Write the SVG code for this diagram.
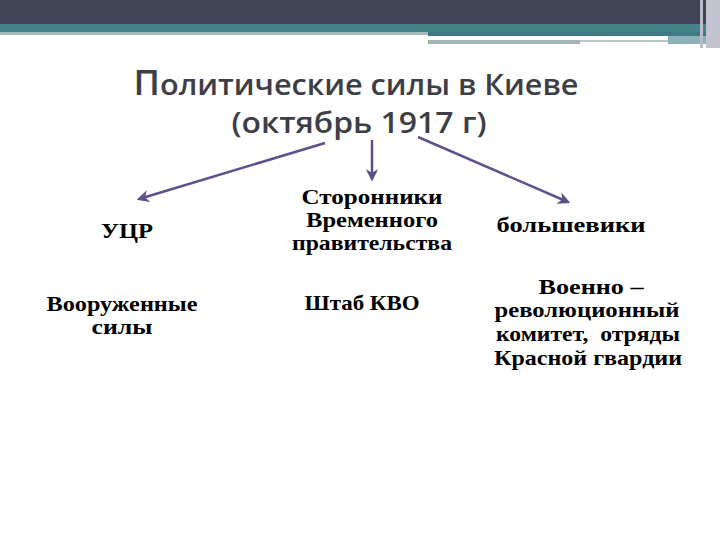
<svg xmlns="http://www.w3.org/2000/svg" width="720" height="540" viewBox="0 0 720 540">
<style>
.title{font-family:"Open Sans","DejaVu Sans",sans-serif;font-weight:600;fill:#3e3e46;text-anchor:middle}
.lbl{font-family:"Liberation Serif","Times New Roman",serif;font-weight:bold;font-size:21px;fill:#000;text-anchor:middle}
.arr{stroke:#58528e;stroke-width:2.5;fill:none;marker-end:url(#ah)}
</style>
<defs>
<marker id="ah" viewBox="0 0 10 10" refX="8" refY="5" markerWidth="5" markerHeight="5" orient="auto" markerUnits="strokeWidth">
<path d="M0,0 L10,5 L0,10 L3,5 Z" fill="#58528e"/>
</marker>
</defs>
<rect width="720" height="540" fill="#fff"/>
<g id="header">
<rect x="0" y="0" width="720" height="24" fill="#3f4456"/>
<rect x="0" y="20" width="720" height="4" fill="#45435a"/>
<rect x="0" y="24" width="710" height="8" fill="#45838a"/>
<rect x="0" y="32" width="428" height="3" fill="#a7b8c0"/>
<rect x="428" y="32" width="280" height="4" fill="#3f7a84"/>
<rect x="428" y="36" width="240" height="2" fill="#ffffff"/>
<rect x="428" y="40" width="152" height="4" fill="#a4b4b6"/>
<rect x="580" y="40" width="88" height="2" fill="#b8c6c8"/>
<rect x="668" y="36" width="40" height="8" fill="#8fb0b8"/>
<rect x="700" y="0" width="3" height="48" fill="#b8bcc8"/>
<rect x="706" y="0" width="14" height="48" fill="#c4c4d0"/>
</g>
<g id="title">
<text class="title" x="356" y="95" font-size="29" textLength="445" lengthAdjust="spacingAndGlyphs"><tspan font-size="34">П</tspan>олитические силы в Киеве</text>
<text class="title" x="359" y="133" font-size="29" textLength="255" lengthAdjust="spacingAndGlyphs">(октябрь 1917 г)</text>
</g>
<g id="connectors">
<line class="arr" x1="325" y1="143" x2="139" y2="199"/>
<line class="arr" x1="372" y1="140" x2="372" y2="179"/>
<line class="arr" x1="418" y1="137" x2="568" y2="202"/>
</g>
<g id="ucr"><text class="lbl" x="127" y="238" textLength="52" lengthAdjust="spacingAndGlyphs">УЦР</text></g>
<g id="supporters"><text class="lbl" x="372" y="204" textLength="141" lengthAdjust="spacingAndGlyphs">Сторонники</text><text class="lbl" x="372" y="227" textLength="132" lengthAdjust="spacingAndGlyphs">Временного</text><text class="lbl" x="372" y="250" textLength="160" lengthAdjust="spacingAndGlyphs">правительства</text></g>
<g id="bolsheviks"><text class="lbl" x="571" y="232" textLength="149" lengthAdjust="spacingAndGlyphs">большевики</text></g>
<g id="armed"><text class="lbl" x="122" y="311" textLength="151" lengthAdjust="spacingAndGlyphs">Вооруженные</text><text class="lbl" x="122" y="334" textLength="61" lengthAdjust="spacingAndGlyphs">силы</text></g>
<g id="shtab"><text class="lbl" x="362" y="310" textLength="115" lengthAdjust="spacingAndGlyphs">Штаб КВО</text></g>
<g id="vrk"><text class="lbl" x="591" y="294" textLength="105" lengthAdjust="spacingAndGlyphs">Военно –</text><text class="lbl" x="587" y="317" textLength="185" lengthAdjust="spacingAndGlyphs">революционный</text><text class="lbl" x="588" y="341" textLength="184" lengthAdjust="spacingAndGlyphs" style="white-space:pre">комитет,  отряды</text><text class="lbl" x="588" y="365" textLength="188" lengthAdjust="spacingAndGlyphs">Красной гвардии</text></g>
</svg>
